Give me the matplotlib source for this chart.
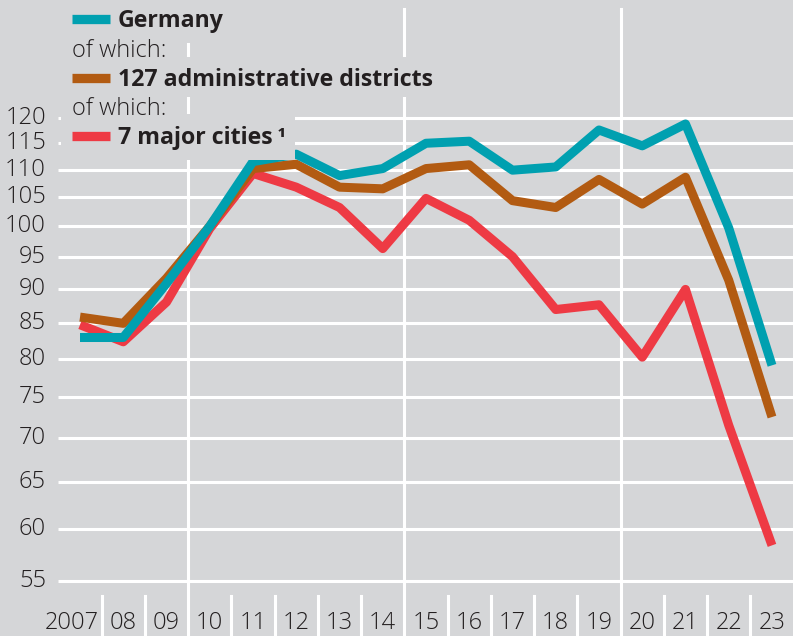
import matplotlib
matplotlib.use("Agg")
import matplotlib.pyplot as plt
from matplotlib.lines import Line2D
from matplotlib.patches import Rectangle

W, H = 793, 636
BG = "#d5d6d8"
TXT = "#231f20"

years = list(range(2007, 2024))
year_labels = ["2007", "08", "09", "10", "11", "12", "13", "14", "15",
               "16", "17", "18", "19", "20", "21", "22", "23"]
germany = [82.9, 82.9, 90.8, 100.0, 111.5, 112.9, 108.9, 110.2, 115.0,
           115.4, 109.9, 110.5, 117.6, 114.5, 118.8, 99.7, 79.1]
districts = [85.8, 84.9, 91.6, 100.0, 110.2, 111.0, 106.8, 106.5, 110.2,
             110.9, 104.4, 103.2, 108.2, 103.8, 108.6, 91.3, 72.5]
cities = [84.7, 82.3, 88.0, 99.6, 109.3, 106.8, 103.2, 96.3, 104.8,
          101.0, 95.0, 86.9, 87.6, 80.2, 89.9, 71.5, 58.4]
yticks = [55, 60, 65, 70, 75, 80, 85, 90, 95, 100, 105, 110, 115, 120]
names = ["Germany", "127 administrative districts", "7 major cities\u2009\u00b9"]
colors = ["#00a0b0", "#b25b12", "#ee3a44"]

plt.rcParams["font.family"] = ["Open Sans", "DejaVu Sans"]

fig = plt.figure(figsize=(W / 100, H / 100), dpi=100, facecolor=BG)
ax = fig.add_axes([0, 0, 1, 1])
ax.set_facecolor(BG)
ax.set_yscale("log")
ax.set_xlim(2005.15, 2023.486)
ax.set_ylim(50.13, 146.4)
ax.axis("off")


def fx(px):
    return px / W


def fy(py):
    return 1 - py / H


# horizontal grid
for v in yticks:
    ax.plot([2006.5, 2024], [v, v], color="white", lw=2.2, zorder=1,
            solid_capstyle="butt")
    ax.text(fx(46), v, str(v), transform=ax.get_yaxis_transform(),
            ha="right", va="center", fontsize=17, color=TXT, fontweight="light")

# vertical separators
for i in range(len(years) - 1):
    x = years[i] + 0.5
    if x in (2009.5, 2014.5, 2019.5):
        ax.axvline(x, ymin=0, ymax=fy(9), color="white", lw=2.2, zorder=1)
    else:
        ax.axvline(x, ymin=0, ymax=fy(596), color="white", lw=2.2, zorder=1)

# x labels
for yr, lab in zip(years, year_labels):
    if yr == 2007:
        ax.text(yr + 0.44, fy(635), lab, transform=ax.get_xaxis_transform(),
                ha="right", va="bottom", fontsize=17, color=TXT, fontweight="light")
    else:
        ax.text(yr, fy(635), lab, transform=ax.get_xaxis_transform(),
                ha="center", va="bottom", fontsize=17, color=TXT, fontweight="light")

# series
for data, c in zip([germany, districts, cities][::-1], colors[::-1]):
    ax.plot(years, data, color=c, lw=6.5, solid_capstyle="butt",
            solid_joinstyle="round", zorder=3)

# legend backgrounds covering grid
for x0, y0, x1, y1 in [(61, 0, 232, 43), (61, 57, 440, 97), (61, 114, 295, 160)]:
    fig.patches.append(Rectangle((fx(x0), fy(y1)), fx(x1) - fx(x0), fy(y0) - fy(y1),
                                 transform=fig.transFigure, facecolor=BG,
                                 edgecolor="none", zorder=2))

# legend
base = [27, 86, 144]
for name, c, b in zip(names, colors, base):
    fig.lines.append(Line2D([fx(72), fx(110)], [fy(b - 8.5), fy(b - 8.5)],
                            color=c, lw=6.7, solid_capstyle="butt",
                            transform=fig.transFigure, zorder=4))
    fig.text(fx(118), fy(b), name, ha="left", va="baseline", fontsize=16.7,
             fontweight="bold", color=TXT, zorder=4)
for b in [57, 115]:
    fig.text(fx(72), fy(b), "of which:", ha="left", va="baseline", fontsize=17,
             fontweight="light", color=TXT, zorder=4)

fig.savefig("out.png", dpi=100, facecolor=BG)
